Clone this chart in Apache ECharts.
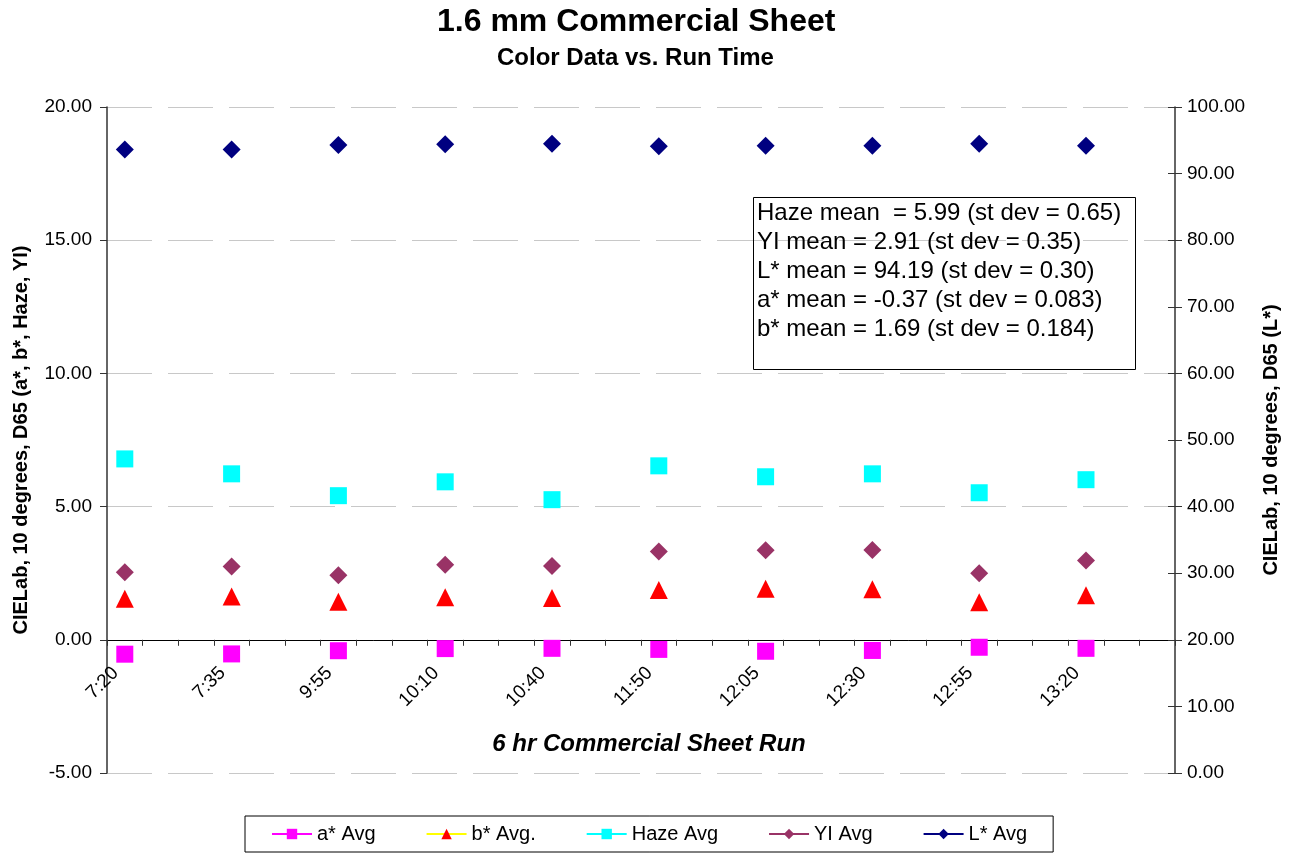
<!DOCTYPE html>
<html>
<head>
<meta charset="utf-8">
<title>1.6 mm Commercial Sheet</title>
<script src="https://cdn.jsdelivr.net/npm/echarts@6/dist/echarts.min.js"></script>
<style>
  html, body { margin: 0; padding: 0; background: #fff; }
  #chart { width: 1295px; height: 854px; }
</style>
</head>
<body>
<div id="chart"></div>
<script>
// Sample times during the run
const runTimes = ['7:20', '7:35', '9:55', '10:10', '10:40', '11:50', '12:05', '12:30', '12:55', '13:20'];

// Measured averages at each sample time
const aStarAvg = [-0.54, -0.53, -0.41, -0.33, -0.32, -0.36, -0.43, -0.40, -0.28, -0.32];
const bStarAvg = [1.54, 1.63, 1.43, 1.60, 1.57, 1.87, 1.92, 1.90, 1.41, 1.67];
const hazeAvg  = [6.79, 6.23, 5.41, 5.93, 5.26, 6.53, 6.12, 6.23, 5.52, 6.01];
const yiAvg    = [2.54, 2.75, 2.42, 2.82, 2.77, 3.31, 3.36, 3.37, 2.50, 2.98];
const lStarAvg = [93.6, 93.6, 94.3, 94.4, 94.5, 94.1, 94.2, 94.2, 94.5, 94.2];

// Summary statistics box
const statLines = [
  'Haze mean  = 5.99 (st dev = 0.65)',
  'YI mean = 2.91 (st dev = 0.35)',
  'L* mean = 94.19 (st dev = 0.30)',
  'a* mean = -0.37 (st dev = 0.083)',
  'b* mean = 1.69 (st dev = 0.184)'
];

// Axis ranges
const leftMin = -5, leftMax = 20, leftStep = 5;
const rightMin = 0, rightMax = 100, rightStep = 10;

// The time axis has three slots per sample; only the first slot of each holds a reading
const slotsPerSample = 3;
const categories = [];
runTimes.forEach(function (t) {
  categories.push(t);
  for (let k = 1; k < slotsPerSample; k++) categories.push(t + '\u200b'.repeat(k));
});
function spread(values) {
  const out = [];
  values.forEach(function (v) {
    out.push(v);
    for (let k = 1; k < slotsPerSample; k++) out.push(null);
  });
  return out;
}

const FONT = '"Liberation Sans", Arial, Helvetica, sans-serif';
const axisColor = '#333';

// Plot rectangle
const W = 1295, H = 854;
const gridLeft = 107, gridRight = 120, gridTop = 107, gridBottom = 81;
const plotHeight = H - gridTop - gridBottom;
// The category axis sits on the zero line of the left value axis
const zeroLift = plotHeight * (0 - leftMin) / (leftMax - leftMin);

const chart = echarts.init(document.getElementById('chart'), null, { renderer: 'canvas' });

function pointSeries(name, values, symbol, size, fill, lineColor, yIndex) {
  return {
    name: name,
    type: 'line',
    yAxisIndex: yIndex || 0,
    data: spread(values),
    symbol: symbol,
    symbolSize: size,
    showSymbol: true,
    showAllSymbol: true,
    connectNulls: false,
    clip: false,
    itemStyle: { color: fill },
    lineStyle: { color: lineColor || fill, width: 2 },
    emphasis: { disabled: true },
    animation: false
  };
}

chart.setOption({
  animation: false,
  backgroundColor: '#fff',
  textStyle: { fontFamily: FONT },
  title: [
    {
      text: '1.6 mm Commercial Sheet',
      left: 437,
      top: 6,
      padding: 0,
      textStyle: { fontFamily: FONT, fontSize: 32, fontWeight: 'bold', color: '#000' }
    },
    {
      text: 'Color Data vs. Run Time',
      left: 497,
      top: 46,
      padding: 0,
      textStyle: { fontFamily: FONT, fontSize: 24, fontWeight: 'bold', color: '#000' }
    }
  ],
  grid: {
    left: gridLeft, right: gridRight, top: gridTop, bottom: gridBottom,
    containLabel: false,
    outerBoundsMode: 'none'
  },
  legend: {
    left: 245,
    top: 816,
    padding: [8, 26],
    itemGap: 50,
    itemWidth: 40,
    itemHeight: 13,
    borderColor: '#000',
    borderWidth: 1,
    textStyle: { fontFamily: FONT, fontSize: 20, color: '#000' },
    data: ['a* Avg', 'b* Avg.', 'Haze Avg', 'YI Avg', 'L* Avg']
  },
  xAxis: {
    type: 'category',
    data: categories,
    boundaryGap: true,
    position: 'bottom',
    offset: -zeroLift,
    name: '6 hr Commercial Sheet Run',
    nameLocation: 'middle',
    nameGap: 93,
    nameTextStyle: {
      fontFamily: FONT, fontSize: 24, fontWeight: 'bold', fontStyle: 'italic', color: '#000',
      padding: [0, 0, 0, 16]
    },
    axisLine: { onZero: false, lineStyle: { color: '#000', width: 1 } },
    axisTick: { show: true, interval: 0, length: 6, lineStyle: { color: axisColor } },
    axisLabel: {
      interval: slotsPerSample - 1,
      rotate: 45,
      margin: 21,
      padding: [0, 13, 0, 0],
      fontFamily: FONT,
      fontSize: 19,
      color: '#000'
    },
    splitLine: { show: false }
  },
  yAxis: [
    {
      type: 'value',
      position: 'left',
      min: leftMin,
      max: leftMax,
      interval: leftStep,
      name: 'CIELab, 10 degrees, D65 (a*, b*, Haze, YI)',
      nameLocation: 'middle',
      nameRotate: 90,
      nameGap: 76,
      nameTextStyle: { fontFamily: FONT, fontSize: 20, fontWeight: 'bold', color: '#000' },
      axisLine: { show: true, lineStyle: { color: axisColor, width: 1.5 } },
      axisTick: { show: true, length: 7, lineStyle: { color: axisColor } },
      axisLabel: {
        margin: 15,
        fontFamily: FONT,
        fontSize: 19,
        color: '#000',
        formatter: function (v) { return v.toFixed(2); }
      },
      splitLine: { show: true, lineStyle: { color: '#c8c8c8', width: 1, type: [45, 16] } }
    },
    {
      type: 'value',
      position: 'right',
      min: rightMin,
      max: rightMax,
      interval: rightStep,
      name: 'CIELab, 10 degrees, D65 (L*)',
      nameLocation: 'middle',
      nameRotate: 90,
      nameGap: 86,
      nameTextStyle: { fontFamily: FONT, fontSize: 20, fontWeight: 'bold', color: '#000' },
      axisLine: { show: true, lineStyle: { color: axisColor, width: 1.5 } },
      axisTick: { show: true, length: 7, lineStyle: { color: axisColor } },
      axisLabel: {
        margin: 12,
        fontFamily: FONT,
        fontSize: 19,
        color: '#000',
        formatter: function (v) { return v.toFixed(2); }
      },
      splitLine: { show: false }
    },
    {
      // inner half of the crossing tick marks on the L* axis
      type: 'value',
      position: 'right',
      min: rightMin,
      max: rightMax,
      interval: rightStep,
      axisLine: { show: false },
      axisTick: { show: true, inside: true, length: 7, lineStyle: { color: axisColor } },
      axisLabel: { show: false },
      splitLine: { show: false }
    }
  ],
  series: [
    pointSeries('a* Avg', aStarAvg, 'rect', 17, '#FF00FF'),
    pointSeries('b* Avg.', bStarAvg, 'triangle', 18, '#FF0000', '#FFFF00'),
    pointSeries('Haze Avg', hazeAvg, 'rect', 17, '#00FFFF'),
    pointSeries('YI Avg', yiAvg, 'diamond', 18, '#993366'),
    pointSeries('L* Avg', lStarAvg, 'diamond', 18, '#000080', '#000080', 1)
  ],
  graphic: [
    {
      type: 'rect',
      left: 751,
      top: 195,
      shape: { width: 382, height: 172 },
      style: { fill: 'none', stroke: '#000', lineWidth: 1 },
      silent: true,
      z: 10
    },
    {
      type: 'text',
      left: 757,
      top: 199,
      style: {
        text: statLines.join('\n'),
        font: '24px ' + FONT,
        lineHeight: 29,
        fill: '#000'
      },
      silent: true,
      z: 10
    }
  ]
});
</script>
</body>
</html>
